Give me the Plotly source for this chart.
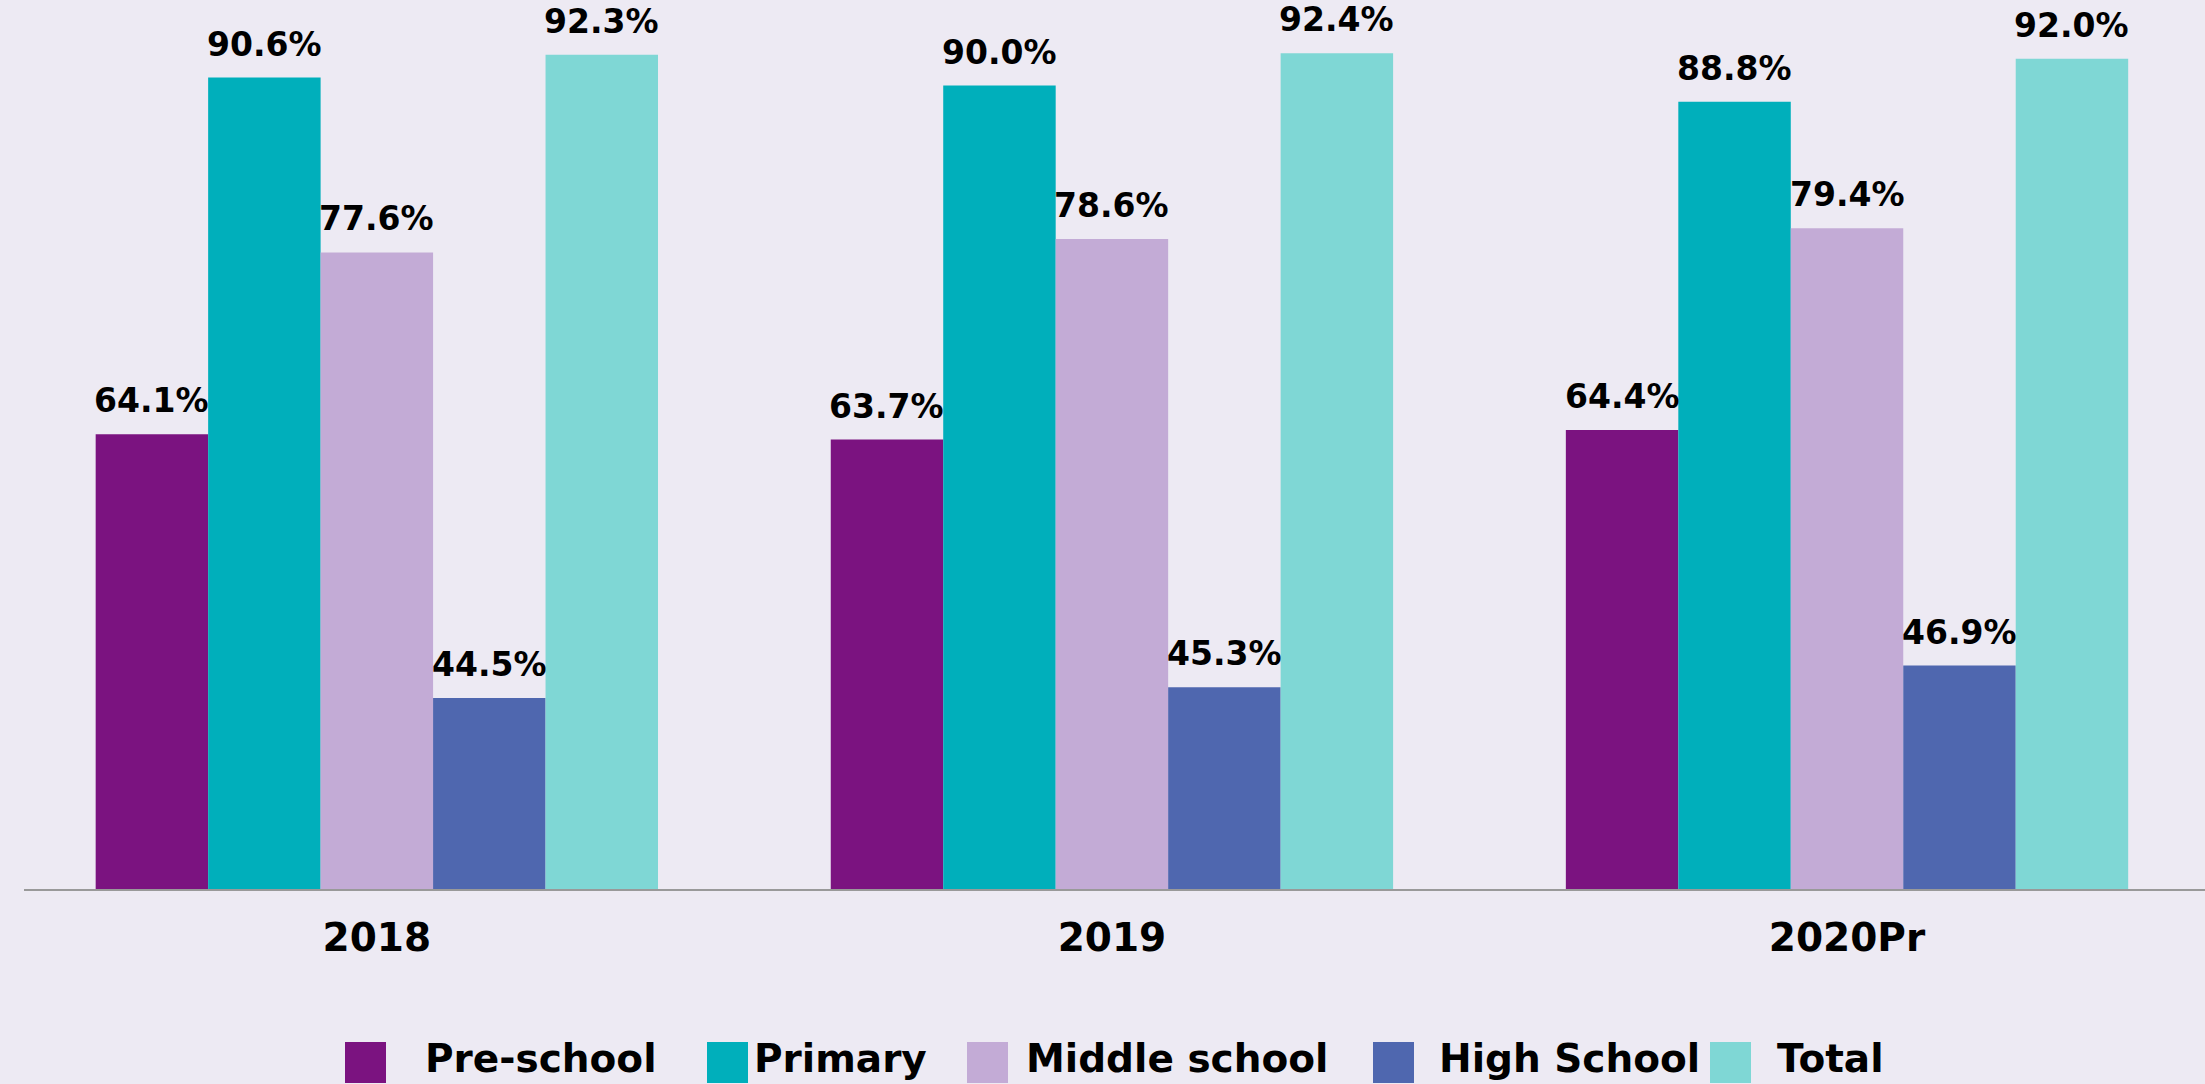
import plotly.graph_objects as go

# ---- data ----
years = ["2018", "2019", "2020Pr"]
series_names = ["Pre-school", "Primary", "Middle school", "High School", "Total"]
pre_school = [64.1, 63.7, 64.4]
primary = [90.6, 90.0, 88.8]
middle_school = [77.6, 78.6, 79.4]
high_school = [44.5, 45.3, 46.9]
total = [92.3, 92.4, 92.0]

series_values = [pre_school, primary, middle_school, high_school, total]
colors = ["#7B1380", "#00AFBB", "#C3ABD6", "#4F67AF", "#7FD7D5"]

BG = "#EDEAF3"
FONT = "DejaVu Sans"
bargap = 0.235

fig = go.Figure()
for name, vals, col in zip(series_names, series_values, colors):
    fig.add_trace(go.Bar(
        x=years, y=vals, name=name, marker=dict(color=col, line=dict(width=0)),
        showlegend=False, hoverinfo="skip",
    ))

# data labels above bars
n = len(series_names)
bw = (1 - bargap) / n
annotations = []
for j, vals in enumerate(series_values):
    off = -0.5 * (1 - bargap) + (j + 0.5) * bw
    for i, v in enumerate(vals):
        annotations.append(dict(
            x=i + off, y=v, xref="x", yref="y", text=f"<b>{v:.1f}%</b>",
            showarrow=False, yanchor="bottom", xanchor="center", yshift=12,
            font=dict(family=FONT, size=33, color="#000000"),
        ))

# custom legend (large square swatches)
plot_left, plot_w, plot_h = 24, 2181, 889
leg_sq_x = [345, 707, 967, 1373, 1710]
leg_txt_x = [423, 752, 1024, 1437, 1775]
sq_top, sq_bot, txt_mid = 1042, 1083, 1058
shapes = []
for k, (name, col) in enumerate(zip(series_names, colors)):
    x0 = (leg_sq_x[k] - plot_left) / plot_w
    x1 = (leg_sq_x[k] + 41 - plot_left) / plot_w
    shapes.append(dict(type="rect", xref="paper", yref="paper",
                       x0=x0, x1=x1, y0=(plot_h - sq_bot) / plot_h, y1=(plot_h - sq_top) / plot_h,
                       fillcolor=col, line=dict(width=0)))
    annotations.append(dict(
        x=(leg_txt_x[k] - plot_left) / plot_w, y=(plot_h - txt_mid) / plot_h,
        xref="paper", yref="paper", text=f"<b>{name}</b>", showarrow=False,
        xanchor="left", yanchor="middle",
        font=dict(family=FONT, size=39, color="#000000"),
    ))

fig.update_layout(
    width=2205, height=1084,
    margin=dict(l=24, r=0, t=0, b=1084 - 889),
    paper_bgcolor=BG, plot_bgcolor=BG,
    barmode="group", bargap=bargap, bargroupgap=0,
    annotations=annotations, shapes=shapes,
    showlegend=False,
    font=dict(family=FONT, color="#000000"),
)
fig.update_xaxes(
    type="category", range=[-0.48, 2.487],
    showline=True, linecolor="#999999", linewidth=2,
    showgrid=False, zeroline=False, ticks="",
    tickfont=dict(family=FONT, size=39, color="#000000"),
    ticklabelstandoff=13,
    tickvals=years, ticktext=[f"<b>{y}</b>" for y in years],
)
fig.update_yaxes(range=[30.3, 96.36], visible=False, showgrid=False, zeroline=False)

fig.write_html("out.html")
